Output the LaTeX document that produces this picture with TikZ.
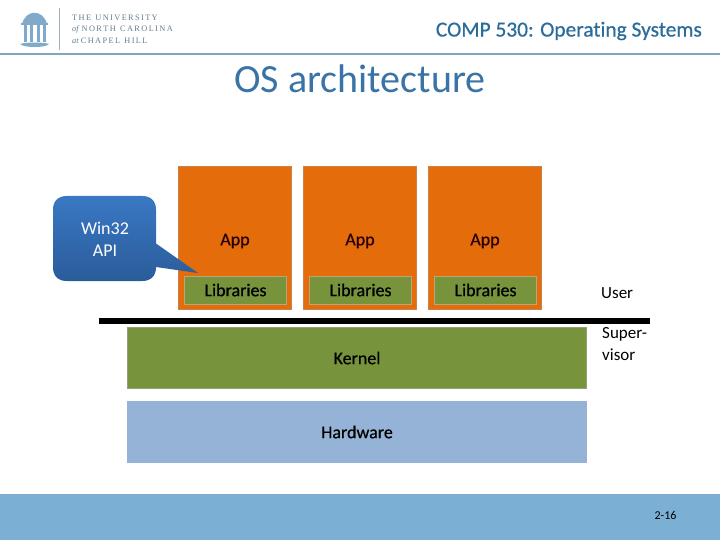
\documentclass[tikz,border=0pt]{standalone}
\usepackage{fontspec}
\setmainfont[Ligatures=NoCommon]{Carlito}
\newfontfamily\semibold[Ligatures=NoCommon,FakeBold=0.5]{Carlito}
\newfontfamily\logofont{Liberation Serif}
\definecolor{unc}{HTML}{7BAFD4}
\definecolor{rule}{HTML}{7FA8C0}
\definecolor{titleblue}{HTML}{3A74A6}
\definecolor{hdr}{HTML}{2A6C9A}
\definecolor{appor}{HTML}{E46C0A}
\definecolor{apped}{HTML}{C9824A}
\definecolor{olive}{HTML}{77933C}
\definecolor{olived}{HTML}{8FA27A}
\definecolor{libed}{HTML}{B9A67A}
\definecolor{hw}{HTML}{95B3D7}
\definecolor{logoc}{HTML}{7FAACB}
\definecolor{logot}{HTML}{5F7F92}
\definecolor{calloutT}{HTML}{3A78C4}
\definecolor{calloutB}{HTML}{2A5C9A}
\tikzset{
 x=1pt,y=-1pt,
 appbox/.style={draw=apped,line width=1pt,fill=appor,minimum width=113pt,minimum height=142pt,inner sep=0pt,outer sep=0pt},
 libbox/.style={draw=libed,line width=1pt,fill=olive,minimum width=102pt,minimum height=28pt,inner sep=0pt,font=\semibold\fontsize{18}{18}\selectfont},
 applabel/.style={font=\semibold\fontsize{18}{18}\selectfont,text=black!85!red,inner sep=0pt},
 layer/.style={draw=olived,line width=.8pt,fill=olive,minimum width=459pt,minimum height=61.5pt,inner sep=0pt,font=\semibold\fontsize{18}{18}\selectfont},
 side/.style={font=\fontsize{17}{22}\selectfont,align=left,anchor=west,inner sep=0pt},
 logotext/.style={font=\logofont\fontsize{8.3}{8.3}\selectfont,text=logot,anchor=west,inner sep=0pt},
}
\begin{document}
\begin{tikzpicture}
\useasboundingbox (0,0) rectangle (720,540);
\fill[white] (0,0) rectangle (720,540);
% header
\draw[rule,line width=2pt] (0,54.5) -- (720,54.5);
\fill[unc] (0,494) rectangle (720,540);
% logo
\fill[logoc] (22,24) .. controls (26,9) and (43,9) .. (47,24) -- cycle;
\fill[logoc] (21,23) rectangle (48,25);
\foreach \lx in {24,30,37,43} \fill[logoc] (\lx,25) rectangle +(2.6,17);
\fill[logoc] (20,44) .. controls (26,42) and (43,42) .. (49,44) .. controls (46,48) and (24,48) .. (20,44) -- cycle;
\draw[logot!60,line width=.7pt] (59.5,8) -- (59.5,50);
\node[logotext] (l1) at (72,17.5) {T\,H\,E\; U\,N\,I\,V\,E\,R\,S\,I\,T\,Y};
\node[logotext] (l2) at (72,29) {\textit{of} N\,O\,R\,T\,H\; C\,A\,R\,O\,L\,I\,N\,A};
\node[logotext] (l3) at (72,40.5) {\textit{at} C\,H\,A\,P\,E\,L\; H\,I\,L\,L};
\node[font=\semibold\fontsize{21.4}{21.4}\selectfont,text=hdr,anchor=east,inner sep=0pt] (course) at (702,31) {COMP 530: Operating Systems};
\node[font=\fontsize{40}{40}\selectfont,text=titleblue,inner sep=0pt] (title) at (360,79) {OS architecture};
% apps
\node[appbox] (a1) at (235,238) {};
\node[appbox] (a2) at (360,238) {};
\node[appbox] (a3) at (485,238) {};
\node[libbox] (l1b) at (235.5,290) {Libraries};
\node[libbox] (l2b) at (360.5,290) {Libraries};
\node[libbox] (l3b) at (485.5,290) {Libraries};
\node[applabel] (t1) at (235,241) {App};
\node[applabel] (t2) at (360,241) {App};
\node[applabel] (t3) at (485,241) {App};
% separator
\fill[black] (99,318) rectangle (650,324);
% layers
\node[layer] (kernel) at (357,358) {Kernel};
\node[layer,fill=hw,draw=hw] (hardware) at (357,432) {Hardware};
% side labels
\node[side] (user) at (601,293) {User};
\node[side] (sup) at (602,344) {Super-\\visor};
% callout
\shade[top color=calloutT,bottom color=calloutB]
  (67,196) -- (142,196) .. controls (151,196) and (156,201) .. (156,210)
  -- (156,243.5) -- (198,273) -- (156,267) -- (156,267)
  .. controls (156,276) and (151,281) .. (142,281)
  -- (67,281) .. controls (58,281) and (53,276) .. (53,267)
  -- (53,210) .. controls (53,201) and (58,196) .. (67,196) -- cycle;
\node[font=\fontsize{18}{22}\selectfont,text=white,align=center,inner sep=0pt] (api) at (105,239) {Win32\\API};
\node[font=\fontsize{12}{12}\selectfont,text=black,inner sep=0pt] (page) at (665.5,515) {2-16};
\end{tikzpicture}
\end{document}
